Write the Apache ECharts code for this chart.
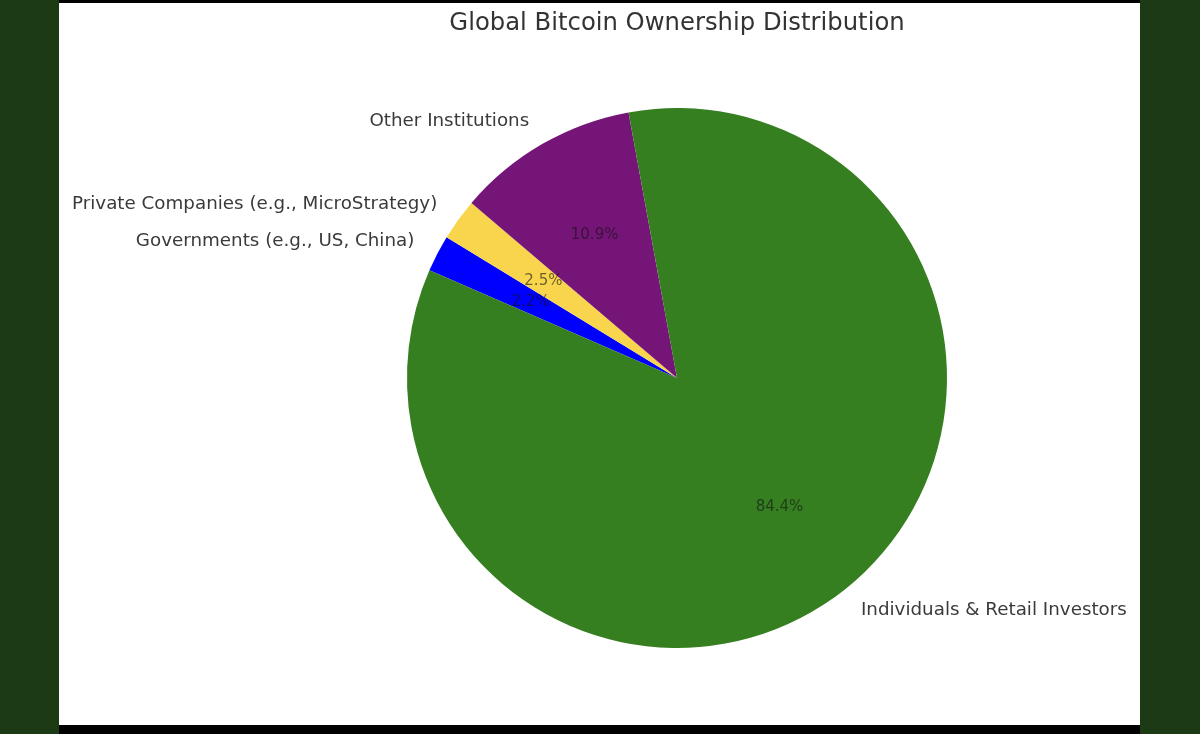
<!DOCTYPE html>
<html lang="en">
<head>
    <meta charset="utf-8">
    <title>Global Bitcoin Ownership Distribution</title>
    <style>
        html, body {
            margin: 0;
            padding: 0;
            width: 1200px;
            height: 734px;
            background: #1c3b14;
            overflow: hidden;
        }

        #frame {
            position: absolute;
            left: 59px;
            top: 0;
            width: 1081px;
            height: 734px;
            background: #000;
        }

        #paper {
            position: absolute;
            left: 59px;
            top: 3px;
            width: 1081px;
            height: 722px;
            background: #fff;
        }

        #chart {
            position: absolute;
            left: 0;
            top: 0;
            width: 1200px;
            height: 734px;
        }
    </style>
</head>
<body>
<div id="frame"></div>
<div id="paper"></div>
<div id="chart"></div>

<script src="https://cdn.jsdelivr.net/npm/echarts@6/dist/echarts.min.js"></script>
<script>
    // 数据：顺时针顺序（从左上方开始）
    const categories = [
        'Governments (e.g., US, China)',
        'Private Companies (e.g., MicroStrategy)',
        'Other Institutions',
        'Individuals & Retail Investors'
    ];
    const shares = [2.2, 2.5, 10.9, 84.4];
    const sliceColors = ['#0000ff', '#f9d54d', '#751577', '#367f21'];

    const center = [677, 378];
    const radius = 270;

    let chart = echarts.init(document.getElementById('chart'));

    let mainData = [];
    let pctData = [];
    for (let i = 0; i < categories.length; i++) {
        mainData.push({name: categories[i], value: shares[i], itemStyle: {color: sliceColors[i]}});
        pctData.push({name: categories[i], value: shares[i]});
    }

    let option = {
        animation: false,
        title: {
            text: 'Global Bitcoin Ownership Distribution',
            left: 672,
            top: 7,
            textAlign: 'center',
            textStyle: {
                fontFamily: 'DejaVu Sans',
                fontSize: 24.3,
                fontWeight: 'normal',
                color: '#333'
            }
        },
        series: [
            {
                // 主饼图 + 外部类别标签
                name: 'ownership',
                type: 'pie',
                center: center,
                radius: radius,
                startAngle: 156.5,
                clockwise: true,
                avoidLabelOverlap: false,
                silent: true,
                data: mainData,
                label: {
                    show: true,
                    position: 'outside',
                    formatter: '{b}',
                    fontFamily: 'DejaVu Sans',
                    fontSize: 18.3,
                    color: '#3a3a3a',
                    distanceToLabelLine: 0
                },
                labelLine: {
                    show: false,
                    length: 26,
                    length2: 0
                }
            },
            {
                // 透明覆盖层，用于在 0.6 半径处放置百分比
                name: 'percent',
                type: 'pie',
                center: center,
                radius: [0, radius * 1.2],
                startAngle: 156.5,
                clockwise: true,
                avoidLabelOverlap: false,
                silent: true,
                z: 5,
                data: pctData,
                itemStyle: {color: 'rgba(0,0,0,0)'},
                label: {
                    show: true,
                    position: 'inside',
                    formatter: function (p) {
                        return p.value.toFixed(1) + '%';
                    },
                    fontFamily: 'DejaVu Sans',
                    fontSize: 15,
                    color: 'rgba(20,20,20,0.62)'
                },
                labelLine: {show: false}
            }
        ]
    };

    chart.setOption(option);
</script>
</body>
</html>
